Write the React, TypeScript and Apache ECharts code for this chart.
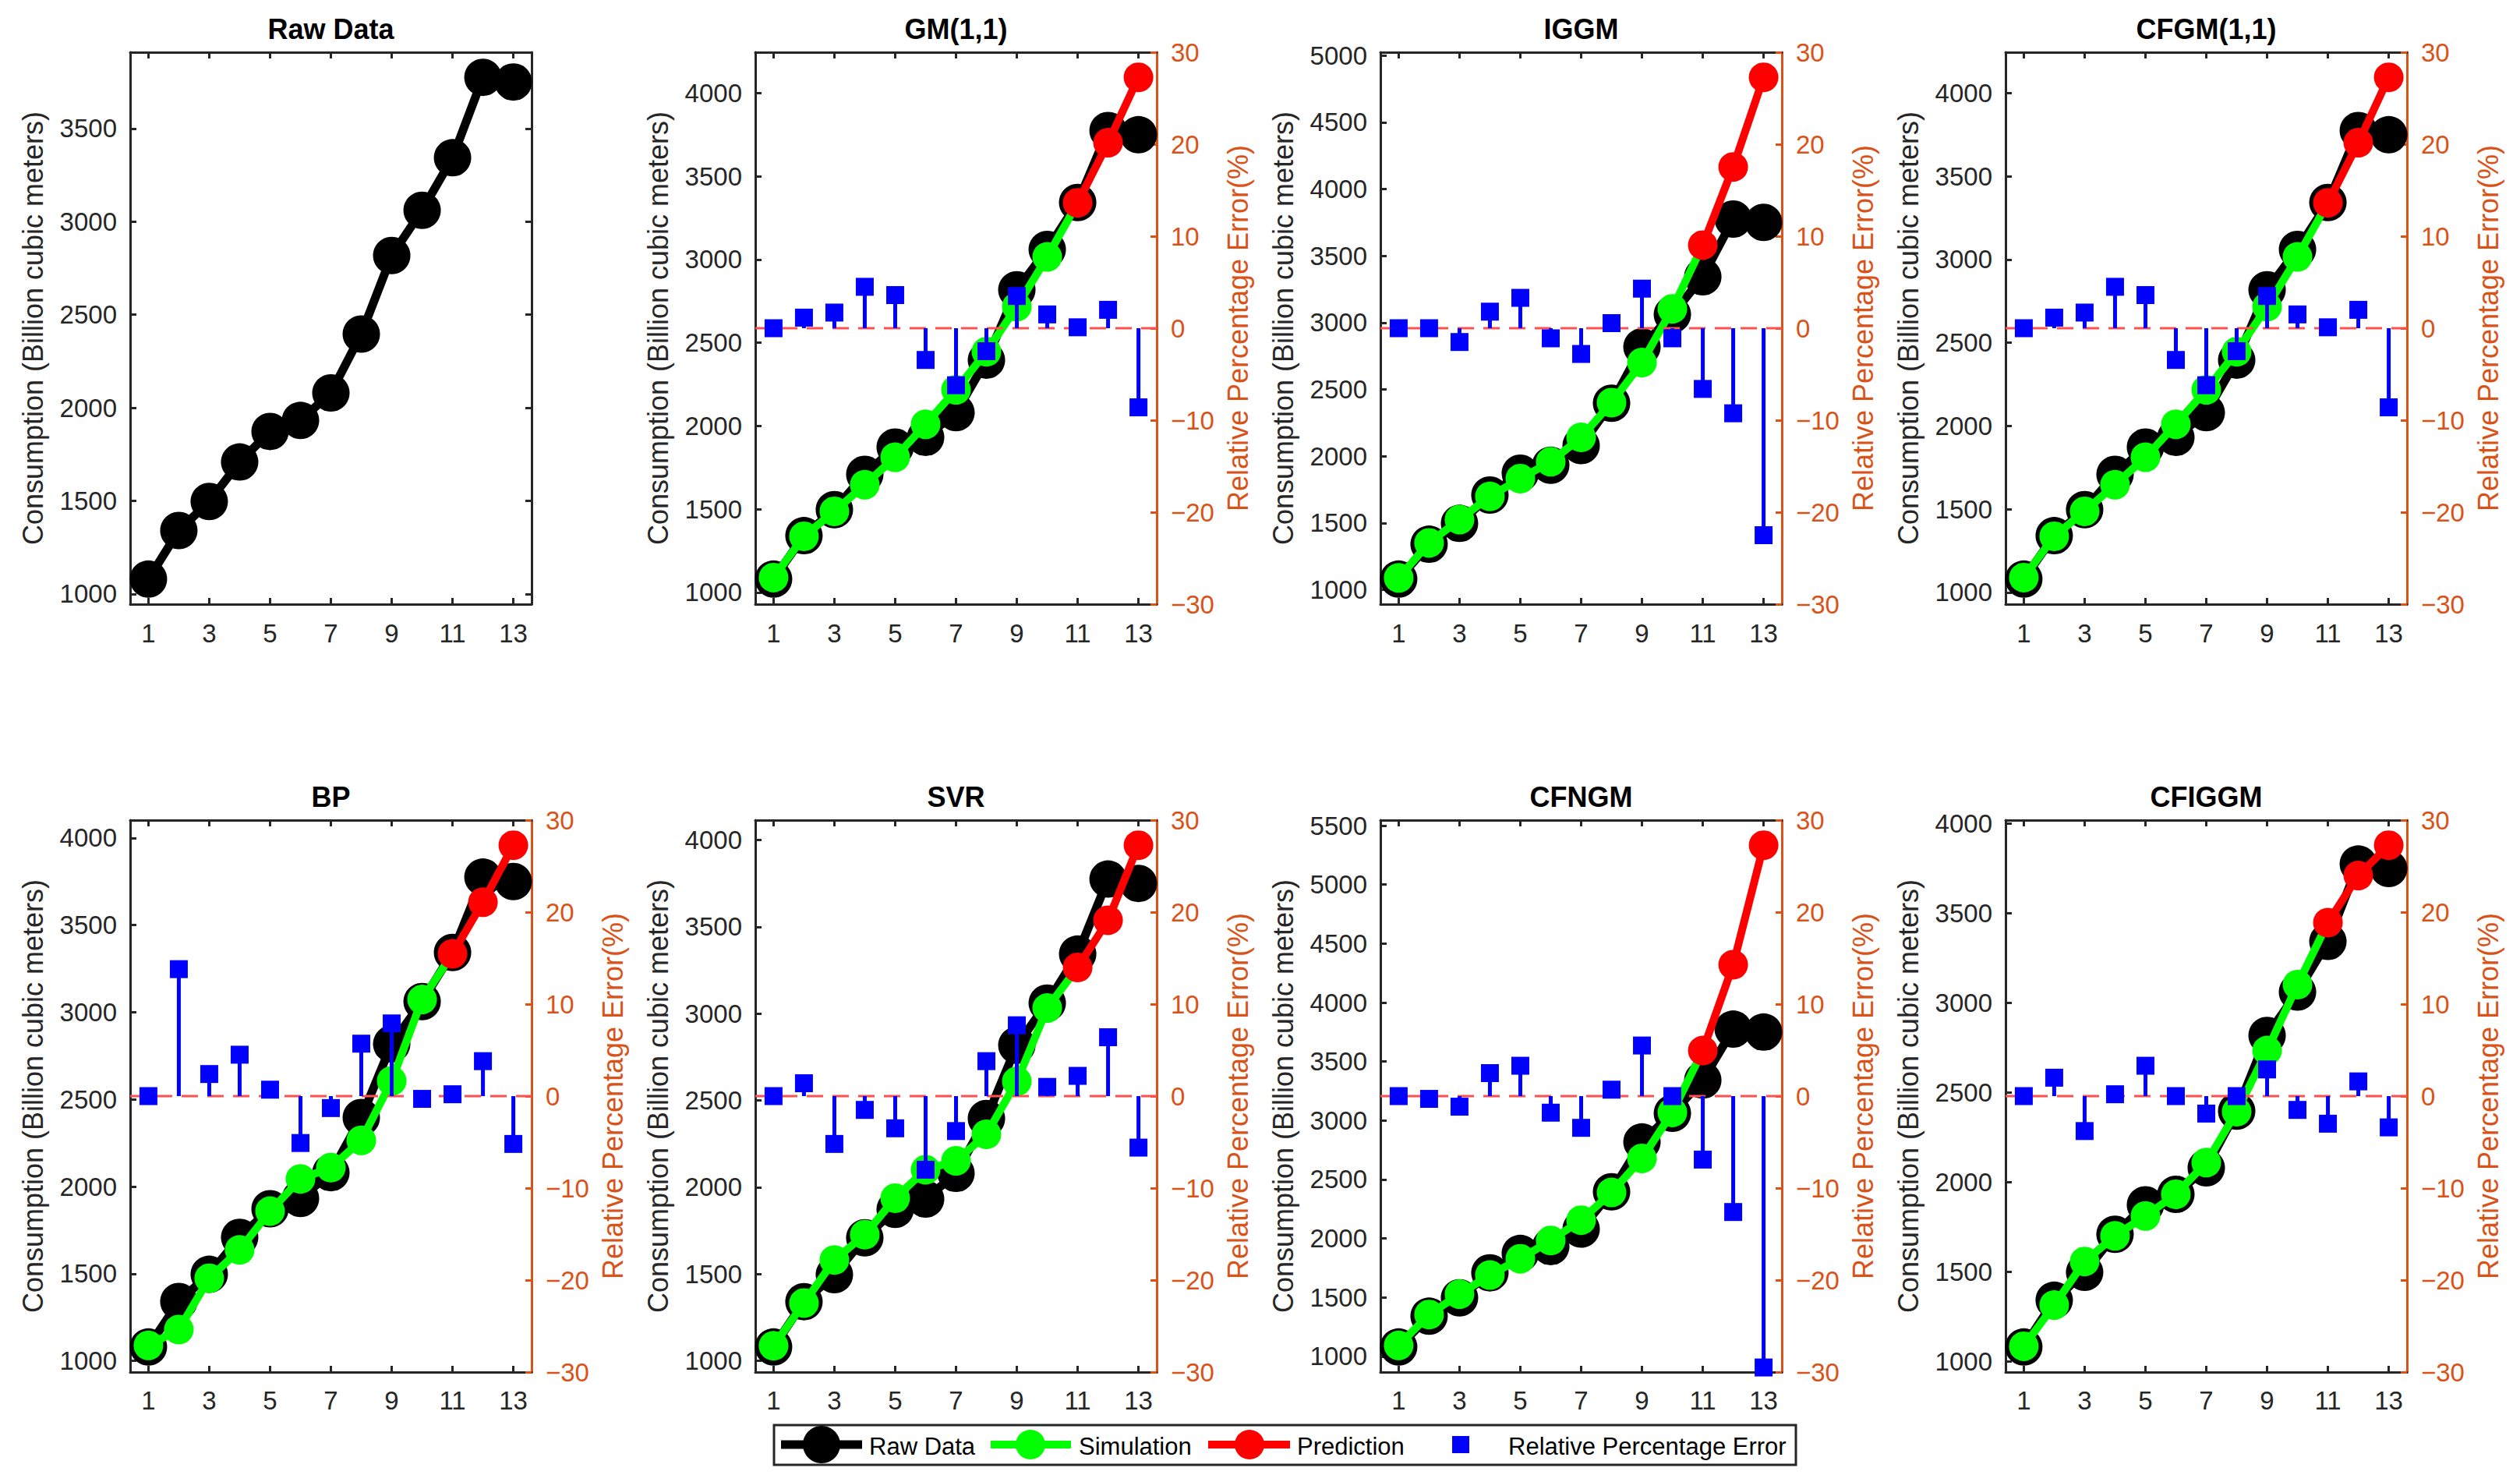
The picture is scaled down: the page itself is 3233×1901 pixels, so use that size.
import React, { useEffect, useRef } from "react";
import * as echarts from "echarts";

// ---------------- data ----------------
const xValues = [1, 2, 3, 4, 5, 6, 7, 8, 9, 10, 11, 12, 13];
const xTickLabels = [1, 3, 5, 7, 9, 11, 13];
const errTicks = [-30, -20, -10, 0, 10, 20, 30];

const rawData = [1080, 1341, 1497, 1709, 1873, 1932, 2080, 2396, 2818, 3061, 3343, 3775, 3750];

const gmSim = [1089, 1337, 1487, 1647, 1812, 2010, 2217, 2446, 2717, 3016];
const gmPred = [3341, 3702, 4095];
const gmErr = [0, 1.15, 1.7, 4.5, 3.6, -3.45, -6.2, -2.5, 3.5, 1.5, 0.1, 2.0, -8.6];

const iggmSim = [1089, 1351, 1525, 1699, 1832, 1958, 2141, 2401, 2701, 3103];
const iggmPred = [3580, 4165, 4836];
const iggmErr = [0, 0, -1.5, 1.8, 3.3, -1.1, -2.8, 0.55, 4.3, -1.1, -6.6, -9.25, -22.5];

const cfgmSim = [1089, 1337, 1487, 1647, 1812, 2010, 2217, 2446, 2717, 3016];
const cfgmPred = [3341, 3702, 4095];
const cfgmErr = [0, 1.15, 1.7, 4.5, 3.6, -3.45, -6.2, -2.5, 3.5, 1.5, 0.1, 2.0, -8.6];

const bpSim = [1089, 1180, 1474, 1637, 1859, 2044, 2109, 2265, 2606, 3073];
const bpPred = [3335, 3631, 3958];
const bpErr = [0, 13.8, 2.4, 4.5, 0.7, -5.1, -1.3, 5.7, 7.9, -0.3, 0.2, 3.8, -5.2];

const svrSim = [1087, 1333, 1581, 1727, 1937, 2101, 2152, 2305, 2610, 3032];
const svrPred = [3266, 3538, 3970];
const svrErr = [0, 1.4, -5.2, -1.5, -3.5, -8.0, -3.8, 3.8, 7.7, 1.0, 2.2, 6.4, -5.6];

const cfngmSim = [1093, 1355, 1528, 1690, 1828, 1983, 2155, 2390, 2679, 3069];
const cfngmPred = [3593, 4321, 5334];
const cfngmErr = [0, -0.3, -1.15, 2.5, 3.3, -1.8, -3.45, 0.7, 5.5, 0, -6.9, -12.6, -29.5];

const cfiggmSim = [1084, 1314, 1557, 1700, 1811, 1932, 2109, 2393, 2734, 3102];
const cfiggmPred = [3448, 3711, 3880];
const cfiggmErr = [0, 2.0, -3.8, 0.2, 3.3, 0, -1.9, 0, 2.9, -1.5, -3.0, 1.6, -3.4];

const ticks4000 = [1000, 1500, 2000, 2500, 3000, 3500, 4000];
const ticks3500 = [1000, 1500, 2000, 2500, 3000, 3500];
const ticks5000 = [1000, 1500, 2000, 2500, 3000, 3500, 4000, 4500, 5000];
const ticks5500 = [1000, 1500, 2000, 2500, 3000, 3500, 4000, 4500, 5000, 5500];

const panelTitles = ["Raw Data", "GM(1,1)", "IGGM", "CFGM(1,1)", "BP", "SVR", "CFNGM", "CFIGGM"];
const legendLabels = ["Raw Data", "Simulation", "Prediction", "Relative Percentage Error"];

type Panel = { title: string; sim?: number[]; pred?: number[]; err?: number[]; ticks: number[] };
const panels: Panel[] = [
  { title: panelTitles[0], ticks: ticks3500 },
  { title: panelTitles[1], sim: gmSim, pred: gmPred, err: gmErr, ticks: ticks4000 },
  { title: panelTitles[2], sim: iggmSim, pred: iggmPred, err: iggmErr, ticks: ticks5000 },
  { title: panelTitles[3], sim: cfgmSim, pred: cfgmPred, err: cfgmErr, ticks: ticks4000 },
  { title: panelTitles[4], sim: bpSim, pred: bpPred, err: bpErr, ticks: ticks4000 },
  { title: panelTitles[5], sim: svrSim, pred: svrPred, err: svrErr, ticks: ticks4000 },
  { title: panelTitles[6], sim: cfngmSim, pred: cfngmPred, err: cfngmErr, ticks: ticks5500 },
  { title: panelTitles[7], sim: cfiggmSim, pred: cfiggmPred, err: cfiggmErr, ticks: ticks4000 },
];

// ---------------- layout / style ----------------
const W = 3233;
const H = 1901;
const colLeft = [167, 969, 1771, 2573];
const rowTop = [67, 1052];
const plotW = 515;
const plotH = 708;
const FONT = "'Liberation Sans', Arial, Helvetica, sans-serif";
const AX = "#262626";
const ORANGE = "#D95319";
const BLACK = "#000000";
const GREEN = "#00FF00";
const RED = "#FF0000";
const BLUE = "#0000FF";
const X_MIN = 0.4;
const X_MAX = 13.6;

const minusFmt = (v: number) => (v < 0 ? "\u2212" + Math.abs(v) : String(v));
const plainFmt = (v: number) => String(Math.round(v));

function buildOption() {
  const grid: any[] = [];
  const xAxis: any[] = [];
  const yAxis: any[] = [];
  const series: any[] = [];
  const graphic: any[] = [];

  panels.forEach((p, i) => {
    const col = i % 4;
    const row = Math.floor(i / 4);
    const left = colLeft[col];
    const top = rowTop[row];
    grid.push({ left, top, width: plotW, height: plotH, containLabel: false, show: false });

    const vals = [...rawData, ...(p.sim || []), ...(p.pred || [])];
    const vmin = Math.min(...vals);
    const vmax = Math.max(...vals);
    const pad = 0.05 * (vmax - vmin);
    const ymin = vmin - pad;
    const ymax = vmax + pad;

    const xb = xAxis.length;
    const axisLineBlack = { show: true, onZero: false, lineStyle: { color: AX, width: 3 } };
    const tickStyle = { color: AX, width: 3 };
    xAxis.push({
      type: "value", gridIndex: i, min: X_MIN, max: X_MAX, position: "bottom",
      axisLine: axisLineBlack,
      axisTick: { show: true, inside: true, length: 8, lineStyle: tickStyle, customValues: xTickLabels },
      axisLabel: { show: true, customValues: xTickLabels, margin: row === 0 ? 21 : 20, color: AX, fontSize: 33, fontFamily: FONT, formatter: plainFmt },
      splitLine: { show: false },
    });
    xAxis.push({
      type: "value", gridIndex: i, min: X_MIN, max: X_MAX, position: "top",
      axisLine: axisLineBlack,
      axisTick: { show: true, inside: true, length: 8, lineStyle: tickStyle, customValues: xTickLabels },
      axisLabel: { show: false },
      splitLine: { show: false },
    });

    const yl = yAxis.length;
    yAxis.push({
      type: "value", gridIndex: i, min: ymin, max: ymax, position: "left",
      name: "Consumption (Billion cubic meters)", nameLocation: "middle", nameGap: 107, nameRotate: 90,
      nameTextStyle: { color: AX, fontSize: 36, fontFamily: FONT },
      axisLine: axisLineBlack,
      axisTick: { show: true, inside: true, length: 8, lineStyle: tickStyle, customValues: p.ticks },
      axisLabel: { show: true, customValues: p.ticks, margin: 17, color: AX, fontSize: 33, fontFamily: FONT, formatter: plainFmt },
      splitLine: { show: false },
    });
    if (!p.sim) {
      yAxis.push({
        type: "value", gridIndex: i, min: ymin, max: ymax, position: "right",
        axisLine: axisLineBlack,
        axisTick: { show: true, inside: true, length: 8, lineStyle: tickStyle, customValues: p.ticks },
        axisLabel: { show: false },
        splitLine: { show: false },
      });
    } else {
      yAxis.push({
        type: "value", gridIndex: i, min: -30, max: 30, interval: 10, position: "right",
        name: "Relative Percentage Error(%)", nameLocation: "middle", nameGap: 86, nameRotate: 90,
        nameTextStyle: { color: ORANGE, fontSize: 36, fontFamily: FONT },
        axisLine: { show: true, onZero: false, lineStyle: { color: ORANGE, width: 3 } },
        axisTick: { show: true, inside: true, length: 8, lineStyle: { color: ORANGE, width: 3 }, customValues: errTicks },
        axisLabel: { show: true, customValues: errTicks, margin: 18, color: ORANGE, fontSize: 33, fontFamily: FONT, formatter: minusFmt },
        splitLine: { show: false },
      });
    }

    // raw data
    series.push({
      type: "line", name: legendLabels[0], xAxisIndex: xb, yAxisIndex: yl, z: 2,
      data: rawData.map((v, k) => [xValues[k], v]),
      symbol: "circle", symbolSize: 48, showSymbol: true, showAllSymbol: true,
      itemStyle: { color: BLACK }, lineStyle: { color: BLACK, width: 11 },
      silent: true, clip: false,
    });

    if (p.sim && p.pred && p.err) {
      const simData: any[] = p.sim.map((v, k) => [xValues[k], v]);
      simData.push({ value: [xValues[p.sim.length], p.pred[0]], symbol: "none" });
      series.push({
        type: "line", name: legendLabels[1], xAxisIndex: xb, yAxisIndex: yl, z: 3,
        data: simData,
        symbol: "circle", symbolSize: 38, showSymbol: true, showAllSymbol: true,
        itemStyle: { color: GREEN }, lineStyle: { color: GREEN, width: 10 },
        silent: true, clip: false,
      });
      series.push({
        type: "line", name: legendLabels[2], xAxisIndex: xb, yAxisIndex: yl, z: 4,
        data: p.pred.map((v, k) => [xValues[p.sim!.length + k], v]),
        symbol: "circle", symbolSize: 38, showSymbol: true, showAllSymbol: true,
        itemStyle: { color: RED }, lineStyle: { color: RED, width: 10 },
        silent: true, clip: false,
      });
      series.push({
        type: "line", xAxisIndex: xb, yAxisIndex: yl + 1, z: 5,
        data: [[X_MIN, 0], [X_MAX, 0]],
        symbol: "none",
        lineStyle: { color: "#FF5050", width: 3, type: [21, 12] },
        silent: true,
      });
      series.push({
        type: "custom", name: legendLabels[3], xAxisIndex: xb, yAxisIndex: yl + 1, z: 6,
        data: p.err.map((v, k) => [xValues[k], v]),
        silent: true,
        renderItem: (params: any, api: any) => {
          const x = api.value(0);
          const v = api.value(1);
          const p0 = api.coord([x, 0]);
          const p1 = api.coord([x, v]);
          return {
            type: "group",
            children: [
              { type: "line", shape: { x1: p0[0], y1: p0[1], x2: p1[0], y2: p1[1] }, style: { stroke: BLUE, lineWidth: 5 } },
              { type: "rect", shape: { x: p1[0] - 11.5, y: p1[1] - 11.5, width: 23, height: 23 }, style: { fill: BLUE } },
            ],
          };
        },
      });
    }

    graphic.push({
      type: "text", x: left + plotW / 2, y: top - 30, z: 100,
      style: {
        text: p.title, align: "center", verticalAlign: "middle", textAlign: "center", textVerticalAlign: "middle",
        fontSize: 36, fontWeight: "bold", fontFamily: FONT, fill: BLACK,
      },
    });
  });

  // legend
  const ly = 1853;
  const textStyle = (t: string) => ({
    text: t, align: "left", verticalAlign: "middle", textAlign: "left", textVerticalAlign: "middle",
    fontSize: 31, fontFamily: FONT, fill: BLACK,
  });
  graphic.push(
    { type: "rect", z: 100, shape: { x: 993, y: 1828, width: 1311, height: 51 }, style: { fill: "#ffffff", stroke: AX, lineWidth: 3 } },
    { type: "line", z: 101, shape: { x1: 1002, y1: ly, x2: 1106, y2: ly }, style: { stroke: BLACK, lineWidth: 11 } },
    { type: "circle", z: 102, shape: { cx: 1054, cy: ly, r: 24 }, style: { fill: BLACK } },
    { type: "text", z: 102, x: 1115, y: ly + 2, style: textStyle(legendLabels[0]) },
    { type: "line", z: 101, shape: { x1: 1271, y1: ly, x2: 1374, y2: ly }, style: { stroke: GREEN, lineWidth: 10 } },
    { type: "circle", z: 102, shape: { cx: 1322, cy: ly, r: 19 }, style: { fill: GREEN } },
    { type: "text", z: 102, x: 1384, y: ly + 2, style: textStyle(legendLabels[1]) },
    { type: "line", z: 101, shape: { x1: 1550, y1: ly, x2: 1655, y2: ly }, style: { stroke: RED, lineWidth: 10 } },
    { type: "circle", z: 102, shape: { cx: 1603, cy: ly, r: 19 }, style: { fill: RED } },
    { type: "text", z: 102, x: 1664, y: ly + 2, style: textStyle(legendLabels[2]) },
    { type: "rect", z: 102, shape: { x: 1874 - 11, y: ly - 11, width: 22, height: 22 }, style: { fill: BLUE } },
    { type: "text", z: 102, x: 1935, y: ly + 2, style: textStyle(legendLabels[3]) },
  );

  return {
    animation: false,
    backgroundColor: "#ffffff",
    textStyle: { fontFamily: FONT },
    grid, xAxis, yAxis, series, graphic,
  };
}

export default function App() {
  const ref = useRef<HTMLDivElement>(null);
  useEffect(() => {
    if (!ref.current) return;
    const chart = echarts.init(ref.current, null, { renderer: "svg", width: W, height: H });
    chart.setOption(buildOption() as any);
    return () => chart.dispose();
  }, []);
  return (
    <div
      ref={ref}
      style={{ position: "fixed", left: 0, top: 0, width: W, height: H, background: "#ffffff" }}
    />
  );
}
